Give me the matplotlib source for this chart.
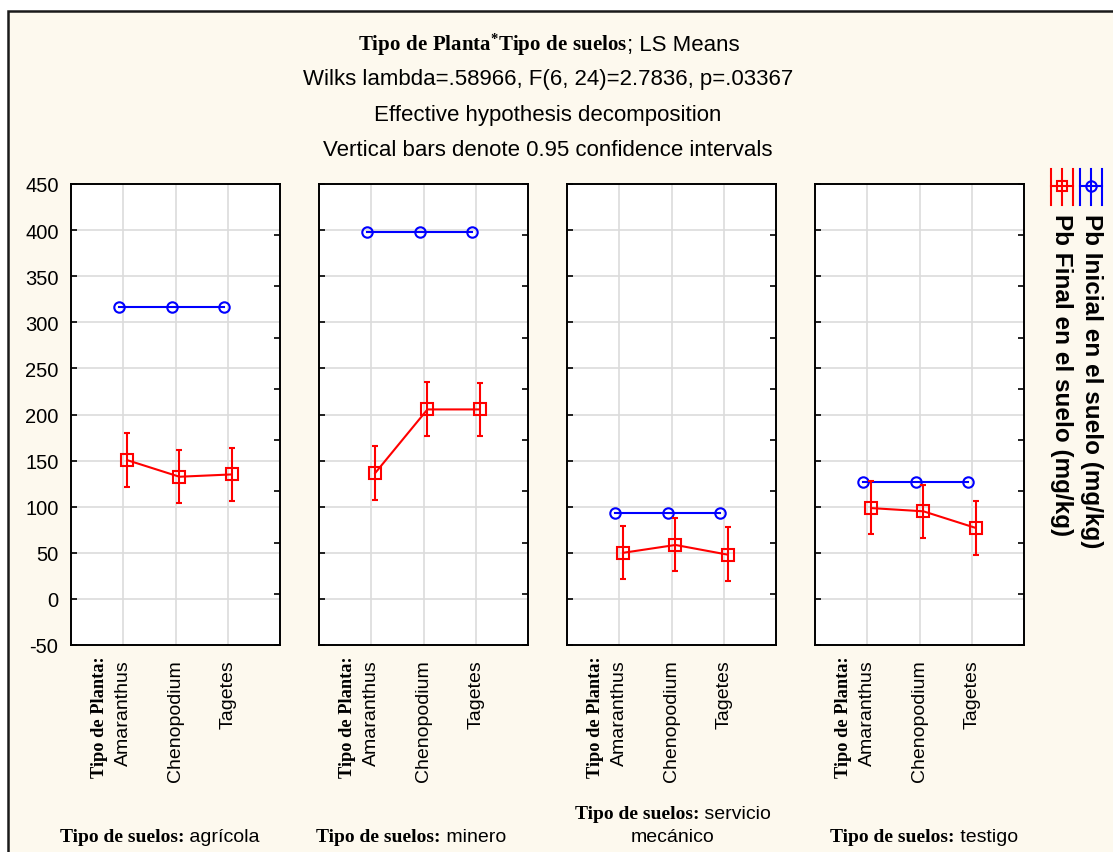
import numpy as np
import matplotlib.pyplot as plt
from matplotlib.patches import Rectangle
from matplotlib.lines import Line2D
from matplotlib.offsetbox import TextArea, HPacker, AnnotationBbox

# Data (LS means, Pb mg/kg)
plantas = ['Amaranthus', 'Chenopodium', 'Tagetes']
suelos = ['agrícola', 'minero', 'servicio', 'testigo']
pb_inicial = [[317, 317, 317], [397.5, 397.5, 397.5], [93.5, 93.5, 93.5], [127, 127, 127]]
pb_final = [[150.5, 132.5, 135], [136.5, 205.5, 205.5], [50, 58.5, 48], [98.5, 95, 77]]
final_lo = [[121.5, 104, 106.5], [107.5, 177, 177], [21.5, 30.5, 19], [70, 66, 48]]
final_hi = [[179.5, 161, 164], [165.5, 235, 234.5], [79, 88, 77.5], [128, 124, 106]]
yticks = list(range(-50, 451, 50))

SANS = 'Liberation Sans'
SERIF = 'Liberation Serif'
CREAM = '#FDF9EE'
W, H = 1113, 853

plt.rcParams['font.family'] = SANS
plt.rcParams['axes.unicode_minus'] = False
plt.rcParams['mathtext.fontset'] = 'custom'
plt.rcParams['mathtext.rm'] = 'Liberation Serif:bold'
plt.rcParams['mathtext.bf'] = 'Liberation Serif:bold'
plt.rcParams['mathtext.it'] = 'Liberation Serif:bold'

fig = plt.figure(figsize=(W / 100, H / 100), dpi=100, facecolor='white')

# cream frame with dark border (only top/left edges visible)
fig.patches.append(Rectangle((8 / W, -0.1), 1.1, (H - 12) / H + 0.1, transform=fig.transFigure,
                             facecolor=CREAM, edgecolor='#1a1a1a', lw=1.8, zorder=-10))


def mixed(parts, x, y):
    boxes = []
    for s, bold, size in parts:
        if bold:
            props = dict(family=SERIF, weight='bold', size=size)
        else:
            props = dict(family=SANS, size=size)
        boxes.append(TextArea(s, textprops=props))
    pack = HPacker(children=boxes, align='baseline', pad=0, sep=0)
    ab = AnnotationBbox(pack, (x / W, 1 - y / H), xycoords='figure fraction',
                        frameon=False, box_alignment=(0.5, 0.5), pad=0)
    fig.add_artist(ab)


# title
mixed([(r'$\mathrm{Tipo\ de\ Planta^{*}Tipo\ de\ suelos}$', True, 15),
       ('; LS Means', False, 16)], 549, 45)
fig.text(548 / W, 1 - 80 / H, 'Wilks lambda=.58966, F(6, 24)=2.7836, p=.03367', ha='center', va='center', fontsize=16)
fig.text(548 / W, 1 - 115 / H, 'Effective hypothesis decomposition', ha='center', va='center', fontsize=16)
fig.text(548 / W, 1 - 151 / H, 'Vertical bars denote 0.95 confidence intervals', ha='center', va='center', fontsize=16)

x = np.arange(len(plantas))
off = 0.075
top_px, bot_px = 185, 646
label_x = [160, 411, 673, 924]

for i, suelo in enumerate(suelos):
    left = 71 + 248 * i
    ax = fig.add_axes([left / W, 1 - bot_px / H, 209 / W, (bot_px - top_px) / H])
    ax.set_facecolor('white')
    ax.set_xlim(-1, 3)
    ax.set_ylim(-50, 450)
    ax.set_yticks(yticks)
    ax.set_xticks(x)
    ax.grid(True, color='#dcdcdc', lw=1.2)
    ax.set_axisbelow(True)
    for sp in ax.spines.values():
        sp.set_color('black')
        sp.set_linewidth(1.4)
    ax.tick_params(axis='y', direction='in', length=4, width=1.2, labelsize=14.5, pad=9)
    ax.tick_params(axis='x', length=0, labelsize=14, pad=10)
    ax.set_xticklabels(plantas, rotation=90, va='top', ha='center')
    if i > 0:
        ax.set_yticklabels([])

    # blue: initial Pb (no spread)
    ax.plot(x - off, pb_inicial[i], color='#0000FF', lw=1.5, marker='o', ms=7.5,
            mfc='none', mec='#0000FF', mew=1.5, zorder=3)
    # red: final Pb with 95% CI
    fin = np.array(pb_final[i])
    yerr = [fin - np.array(final_lo[i]), np.array(final_hi[i]) - fin]
    ax.errorbar(x + off, fin, yerr=yerr, color='#FF0000', lw=1.5, marker='s', ms=8,
                mfc='none', mec='#FF0000', mew=1.5, capsize=2.5, elinewidth=1.5, capthick=1.5, zorder=4)

    # right-side ticks
    ax2 = ax.twinx()
    ax2.set_ylim(0, 9)
    ax2.set_yticks(range(10))
    ax2.set_yticklabels([])
    ax2.tick_params(axis='y', direction='in', length=4, width=1.2)
    for sp in ax2.spines.values():
        sp.set_visible(False)

    ax.text(-0.45, -0.022, 'Tipo de Planta:', transform=ax.get_xaxis_transform(), rotation=90,
            ha='center', va='top', family=SERIF, weight='bold', fontsize=13.2)

    if suelo == 'servicio':
        mixed([('Tipo de suelos:', True, 14), (' servicio', False, 14)], label_x[i], 815)
        fig.text(label_x[i] / W, 1 - 838 / H, 'mecánico', ha='center', va='center', fontsize=14)
    else:
        mixed([('Tipo de suelos:', True, 14), (' ' + suelo, False, 14)], label_x[i], 838)

# rotated legend at top right
legend_items = [('Pb Inicial en el suelo (mg/kg)', '#0000FF', 'o', 1091),
                ('Pb Final en el suelo (mg/kg)', '#FF0000', 's', 1062)]
for text, col, mk, xc in legend_items:
    yc = 1 - 187 / H
    fig.add_artist(Line2D([(xc - 11) / W, (xc + 11) / W], [yc, yc], color=col, lw=1.5))
    fig.add_artist(Line2D([xc / W], [yc], color=col, marker=mk, ms=7.5, mfc='none', mew=1.5))
    for dx in (-11, 0, 11):
        fig.add_artist(Line2D([(xc + dx) / W, (xc + dx) / W], [1 - 170 / H, 1 - 206 / H], color=col, lw=1.5))
    fig.text(xc / W, 1 - 214 / H, text, rotation=-90, ha='center', va='top',
             fontsize=17.5, weight='bold', family=SANS)

fig.savefig('out.png', dpi=100, facecolor=fig.get_facecolor())
